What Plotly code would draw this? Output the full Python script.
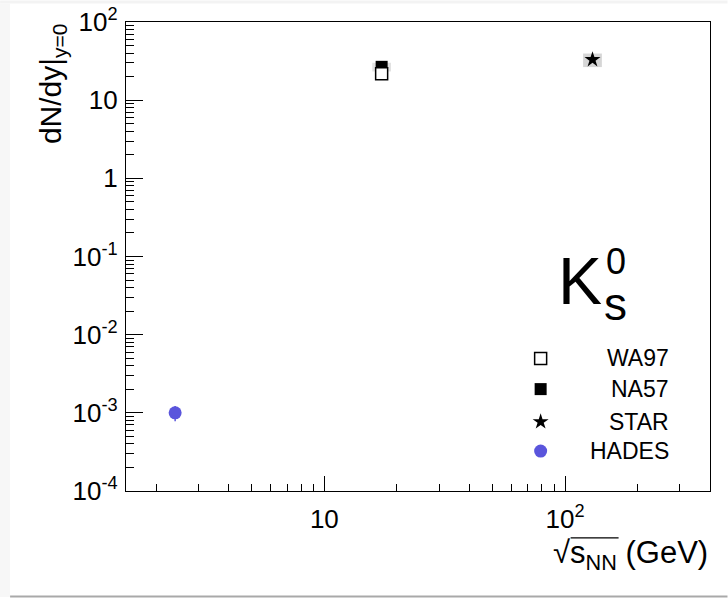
import plotly.graph_objects as go

# ---- data: K0s mid-rapidity yield vs collision energy ----
wa97_x = [17.3]
wa97_y = [21.8]

na57_x = [17.3]
na57_y = [26.7]
na57_sys = [3.4]

star_x = [130.0]
star_y = [33.0]
star_sys = [6.5]

hades_x = [2.4]
hades_y = [1.0e-3]
hades_err = [0.22e-3]

y_tickvals = [1e-4, 1e-3, 1e-2, 1e-1, 1, 10, 100]
y_ticktext = ["10<sup>-4</sup>", "10<sup>-3</sup>", "10<sup>-2</sup>", "10<sup>-1</sup>",
              "1", "10", "10<sup>2</sup>"]
x_tickvals = [10, 100]
x_ticktext = ["10", "10<sup>2</sup>"]

legend_names = ["WA97", "NA57", "STAR", "HADES"]

# ---- page geometry (pixels) ----
W, H = 728, 598
L, R, T, B = 126, 710.5, 21.5, 491.0
FONT = "Liberation Sans, Arial, Helvetica, sans-serif"
HADES_COLOR = "#5a55dc"
BOX_HW = 0.039  # half width of systematic boxes, in decades
X_RANGE = [0.17609, 2.60206]
Y_RANGE = [-4, 2]


def px_x(p):
    return (p - L) / (R - L)


def px_y(p):
    return (B - p) / (B - T)


def sys_box(xs, ys, sys):
    bx, by = [], []
    for x, y, s in zip(xs, ys, sys):
        f = 10 ** BOX_HW
        bx += [x / f, x * f, x * f, x / f, x / f, None]
        by += [y - s, y - s, y + s, y + s, y - s, None]
    return bx, by


def log_minor(lo_exp, hi_exp):
    vals = []
    for e in range(lo_exp, hi_exp):
        for k in range(2, 10):
            vals.append(k * 10.0 ** e)
    return vals


fig = go.Figure()

# systematic uncertainty boxes
bx, by = sys_box(na57_x, na57_y, na57_sys)
fig.add_trace(go.Scatter(x=bx, y=by, mode="lines", fill="toself",
                         fillcolor="#e2e2e2", line=dict(width=0), hoverinfo="skip"))
bx, by = sys_box(star_x, star_y, star_sys)
fig.add_trace(go.Scatter(x=bx, y=by, mode="lines", fill="toself",
                         fillcolor="#d6d6d6", line=dict(width=0), hoverinfo="skip"))

fig.add_trace(go.Scatter(x=na57_x, y=na57_y, mode="markers", name="NA57",
                         marker=dict(symbol="square", size=12, color="black",
                                     line=dict(width=0))))
fig.add_trace(go.Scatter(x=wa97_x, y=wa97_y, mode="markers", name="WA97",
                         marker=dict(symbol="square", size=12, color="white",
                                     line=dict(width=1.5, color="black"))))
fig.add_trace(go.Scatter(x=star_x, y=star_y, mode="markers", name="STAR",
                         marker=dict(symbol="star", size=12, color="black",
                                     line=dict(width=0))))
fig.add_trace(go.Scatter(x=hades_x, y=hades_y, mode="markers", name="HADES",
                         error_y=dict(type="data", array=hades_err, color=HADES_COLOR,
                                      thickness=1.5, width=0),
                         marker=dict(symbol="circle", size=13, color=HADES_COLOR)))

# legend keys on an overlay axis spanning the frame
leg_rows = [px_y(358.3), px_y(389.0), px_y(421.7), px_y(451.0)]
leg_x = px_x(541)
leg_styles = [
    dict(symbol="square", size=12, color="white", line=dict(width=1.5, color="black")),
    dict(symbol="square", size=12, color="black", line=dict(width=0)),
    dict(symbol="star", size=12, color="black", line=dict(width=0)),
    dict(symbol="circle", size=13, color=HADES_COLOR, line=dict(width=0)),
]
for yy, st in zip(leg_rows, leg_styles):
    fig.add_trace(go.Scatter(x=[leg_x], y=[yy], mode="markers", marker=st,
                             xaxis="x2", yaxis="y2", hoverinfo="skip"))

annotations = []
for yy, name in zip(leg_rows, legend_names):
    annotations.append(dict(x=px_x(671), y=yy, xref="paper", yref="paper",
                            text=name, showarrow=False, xanchor="right", yanchor="middle",
                            font=dict(family=FONT, size=23, color="black")))

# particle label
annotations.append(dict(x=px_x(580), y=px_y(281), xref="paper", yref="paper", text="K",
                        showarrow=False, xanchor="center", yanchor="middle",
                        font=dict(family=FONT, size=66, color="black")))
annotations.append(dict(x=px_x(616), y=px_y(261), xref="paper", yref="paper", text="0",
                        showarrow=False, xanchor="center", yanchor="middle",
                        font=dict(family=FONT, size=36, color="black")))
annotations.append(dict(x=px_x(616), y=px_y(304), xref="paper", yref="paper", text="s",
                        showarrow=False, xanchor="center", yanchor="middle",
                        font=dict(family=FONT, size=46, color="black")))

# axis titles
annotations.append(dict(x=px_x(52), y=px_y(21), xref="paper", yref="paper",
                        text="dN/dy|<sub>y=0</sub>", textangle=-90, showarrow=False,
                        xanchor="center", yanchor="top",
                        font=dict(family=FONT, size=30, color="black")))
annotations.append(dict(x=px_x(710), y=px_y(555), xref="paper", yref="paper",
                        text="√s<sub>NN</sub> (GeV)", showarrow=False,
                        xanchor="right", yanchor="middle",
                        font=dict(family=FONT, size=31, color="black")))

shapes = [
    # overline of the square root
    dict(type="line", xref="paper", yref="paper", x0=px_x(571), x1=px_x(619),
         y0=px_y(538), y1=px_y(538), line=dict(color="black", width=1.2)),
    # page edges
    dict(type="rect", xref="paper", yref="paper", x0=px_x(0), x1=px_x(W),
         y0=px_y(0), y1=px_y(3), fillcolor="#f3f3f3", line=dict(width=0), layer="below"),
    dict(type="rect", xref="paper", yref="paper", x0=px_x(0), x1=px_x(10),
         y0=px_y(3), y1=px_y(597), fillcolor="#f7f7f7", line=dict(width=0), layer="below"),
    dict(type="rect", xref="paper", yref="paper", x0=px_x(10), x1=px_x(W),
         y0=px_y(595.5), y1=px_y(597.5), fillcolor="#a9a9a9", line=dict(width=0), layer="below"),
]

axis_common = dict(showline=True, linecolor="black", linewidth=1.3, mirror=True,
                   ticks="inside", tickwidth=1.2, tickcolor="black", showgrid=False,
                   zeroline=False, automargin=False,
                   tickfont=dict(family=FONT, size=26, color="black"))

fig.update_layout(
    width=W, height=H,
    margin=dict(l=L, r=W - R, t=T, b=H - B, pad=0, autoexpand=False),
    paper_bgcolor="white", plot_bgcolor="white",
    showlegend=False,
    xaxis=dict(type="log", range=X_RANGE, tickvals=x_tickvals,
               ticktext=x_ticktext, ticklen=15, ticklabelstandoff=5,
               minor=dict(ticks="inside", ticklen=7, tickcolor="black", tickwidth=1.2,
                          tickvals=log_minor(0, 3), showgrid=False),
               **axis_common),
    yaxis=dict(type="log", range=Y_RANGE, tickvals=y_tickvals, ticktext=y_ticktext,
               ticklen=17, ticklabelstandoff=2,
               minor=dict(ticks="inside", ticklen=8, tickcolor="black", tickwidth=1.2,
                          tickvals=log_minor(-4, 2), showgrid=False),
               **axis_common),
    xaxis2=dict(overlaying="x", range=[0, 1], visible=False, anchor="y2"),
    yaxis2=dict(overlaying="y", range=[0, 1], visible=False, anchor="x2"),
    annotations=annotations,
    shapes=shapes,
)

fig.write_html("out.html")
